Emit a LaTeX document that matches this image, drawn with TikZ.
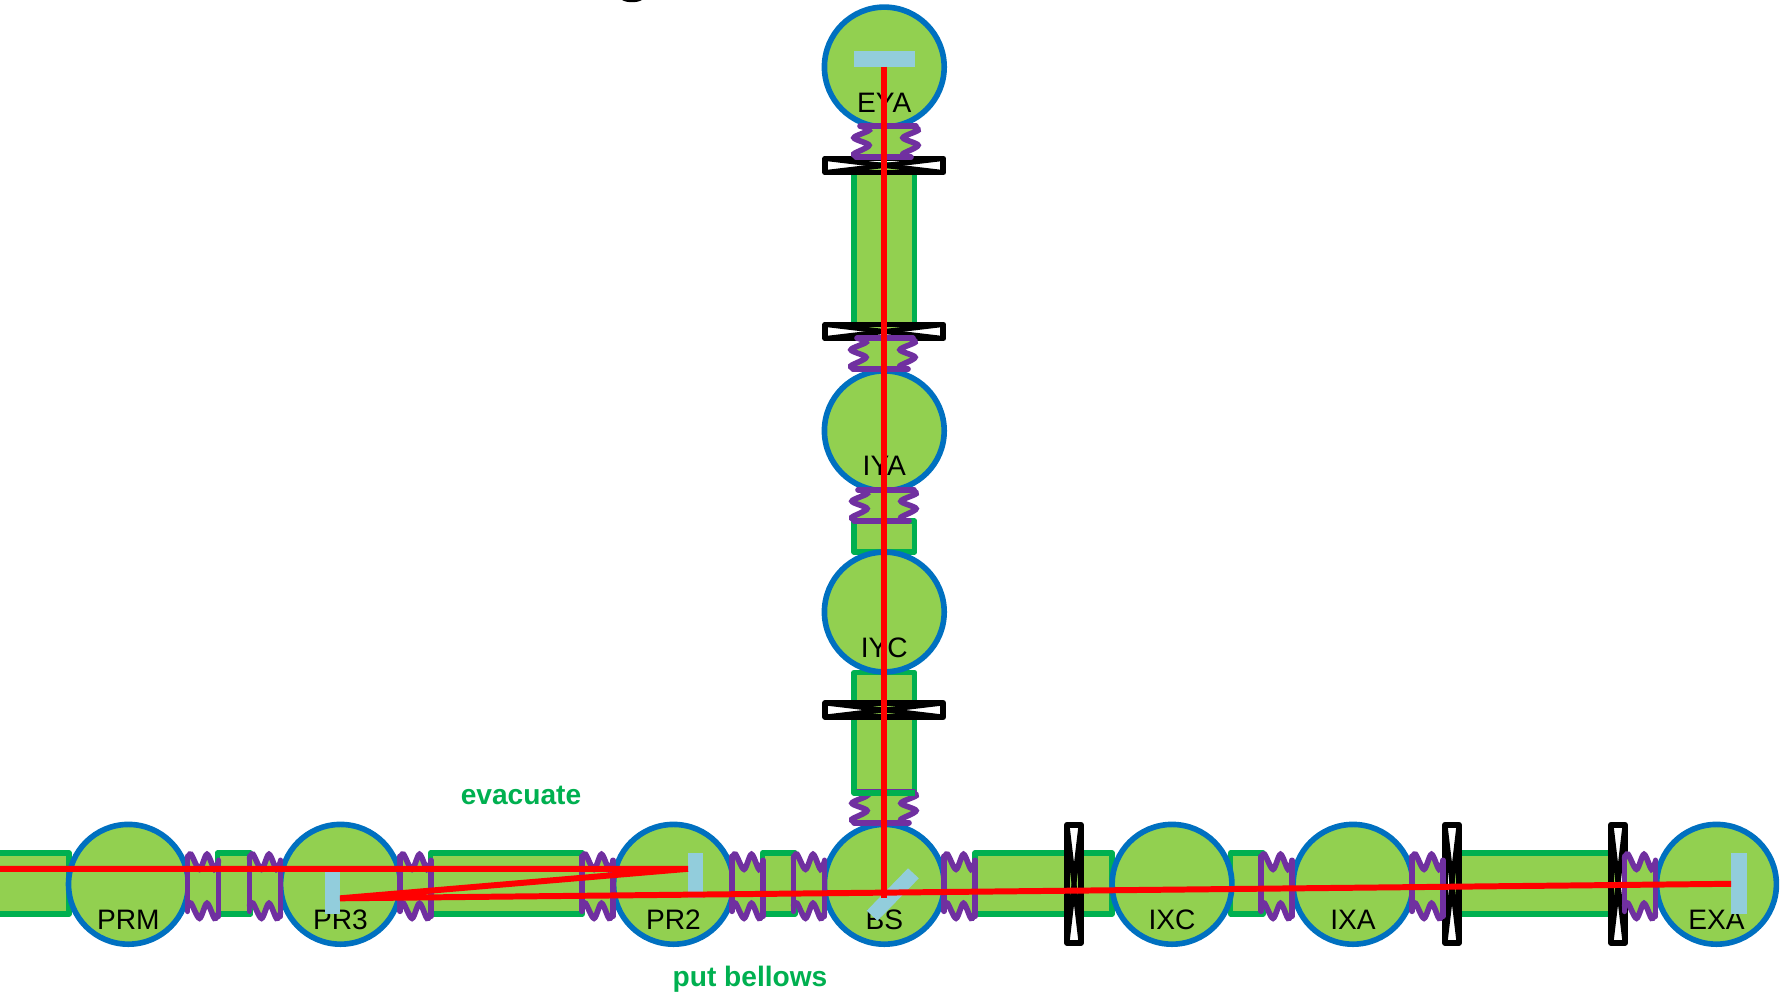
\documentclass[tikz,border=0pt]{standalone}
\usepackage{fontspec}
\setmainfont{Liberation Sans}
\definecolor{tubegreen}{HTML}{00B050}
\definecolor{vacfill}{HTML}{92D050}
\definecolor{chamberblue}{HTML}{0070C0}
\definecolor{bellowspurple}{HTML}{7030A0}
\definecolor{opticblue}{HTML}{92CDDC}
\tikzset{
    tube/.style={draw=tubegreen, fill=vacfill, line width=1.5pt, line join=round},
    chamber/.style={circle, draw=chamberblue, fill=vacfill, line width=1.6pt, minimum size=3.42cm*0.35, inner sep=0pt},
    tag/.style={font=\fontsize{8}{10}\selectfont, inner sep=0pt},
    note/.style={font=\fontsize{8}{10}\selectfont\bfseries, text=tubegreen, inner sep=0pt},
    optic/.style={fill=opticblue},
    beam/.style={draw=red, line width=1.7pt},
    pics/bellows/.style={code={
        \path[fill=vacfill] plot[smooth] coordinates {(0,-25) (3.5,-29) (12,-14) (19.5,-29) (27,-14) (31,-22)}
            -- plot[smooth] coordinates {(31,30) (27,35) (19.5,20) (12,35) (3.5,20) (0,22)} -- cycle;
        \draw[bellowspurple, line width=1.6pt, line cap=round] plot[smooth] coordinates {(0,-25) (3.5,-29) (12,-14) (19.5,-29) (27,-14) (31,-22)};
        \draw[bellowspurple, line width=1.6pt, line cap=round] plot[smooth] coordinates {(0,22) (3.5,20) (12,35) (19.5,20) (27,35) (31,30)};
        \draw[bellowspurple, line width=1.6pt, line cap=round] (0,-27) -- (0,28);
        \draw[bellowspurple, line width=1.6pt, line cap=round] (31,-23) -- (31,33);
    }},
    pics/valve/.style={code={
        \fill[white] (-7,-59) -- (7,-59) -- (-7,59) -- (7,59) -- cycle;
        \draw[black, line width=1.7pt, line join=round] (-7,-59) rectangle (7,59);
        \draw[black, line width=1.4pt] (-7,-59) -- (7,59);
        \draw[black, line width=1.4pt] (7,-59) -- (-7,59);
    }},
}
\begin{document}
\begin{tikzpicture}[x=0.01cm, y=-0.01cm]
    \useasboundingbox (0,0) rectangle (1783,991);

    % Beam tubes
    \foreach \xa/\xb in {-5/69, 217.4/250.7, 430.5/582.5, 762.6/795, 975/1112, 1230.5/1263, 1452/1618}
        \draw[tube] (\xa,853) rectangle (\xb,914);
    \foreach \ya/\yb in {165/331.5, 521/552, 672.6/793}
        \draw[tube] (854,\ya) rectangle (914.7,\yb);

    % Gate valves
    \foreach \xv in {1074, 1452, 1618} \pic at (\xv,883.8) {valve};
    \foreach \yv in {165.5, 331.5, 710} \pic[rotate=90] at (884.3,\yv) {valve};

    % Chambers
    \foreach \name/\x/\y in {PRM/128.4/884.3, PR3/340.5/884.3, PR2/673.5/884.3, BS/884.3/884.3, IXC/1172/884.3, IXA/1353/884.3, EXA/1716.5/884.3, IYC/884.3/612, IYA/884.3/430.8, EYA/884.3/67} {
        \node[chamber] (\name) at (\x,\y) {};
        \node[tag] (\name tag) at (\x,{\y+35.5}) {\name};
    }

    % Bellows
    \foreach \xb in {187.5, 249.5, 400, 582, 732, 793.5, 944, 1261, 1412, 1624.5} \pic at (\xb,883.3) {bellows};
    \pic[rotate=90] at (883,157.3) {bellows};
    \pic[rotate=90] at (880,369.3) {bellows};
    \pic[rotate=90] at (881,520.7) {bellows};
    \pic[rotate=90] at (881,822.7) {bellows};
    \draw[tube] (854,793) -- (914.7,793);

    % Optics
    \fill[optic] (325.3,868) rectangle (340,914);
    \fill[optic] (688,852.7) rectangle (703,898);
    \fill[optic] (908,868.3) -- (918.8,878.3) -- (877.5,920.7) -- (866.7,910.7) -- cycle;
    \fill[optic] (1731,852.7) rectangle (1747,914);
    \fill[optic] (853.7,51) rectangle (915,67);

    % Beam path
    \coordinate (inputL) at (0,868.8);
    \coordinate (hitPRii) at (688,868.8);
    \coordinate (hitPRiii) at (340,898.3);
    \coordinate (hitEXA) at (1731,883.8);
    \coordinate (hitEYA) at (884.3,67);
    \coordinate (hitBS) at (884.3,898);
    \draw[beam] (inputL) -- (hitPRii) -- (hitPRiii) -- (hitEXA);
    \draw[beam] (hitEYA) -- (hitBS);

    \node[note] (evacuate) at (521,795.5) {evacuate};
    \node[note] (putbellows) at (750,979.5) {put bellows};

    % cut off at the top edge
    \fill (622,0) .. controls (627,3) and (637,3) .. (642,0) -- cycle;
\end{tikzpicture}
\end{document}
